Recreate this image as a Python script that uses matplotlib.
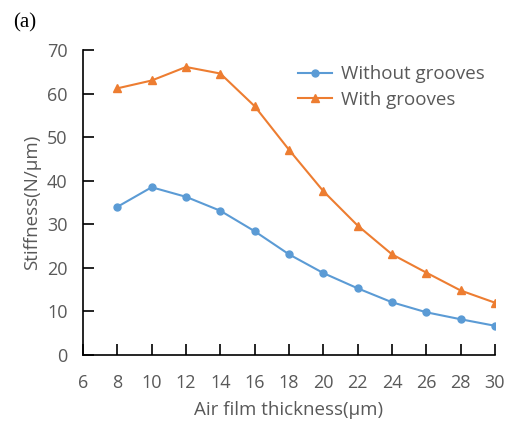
import matplotlib
matplotlib.use("Agg")
import matplotlib.pyplot as plt

thickness = [8, 10, 12, 14, 16, 18, 20, 22, 24, 26, 28, 30]
without_grooves = [34.0, 38.5, 36.3, 33.1, 28.4, 23.1, 18.8, 15.3, 12.1, 9.8, 8.2, 6.7]
with_grooves = [61.2, 63.0, 66.1, 64.6, 57.1, 47.1, 37.6, 29.7, 23.1, 18.9, 14.8, 12.0]
xticks = list(range(6, 31, 2))
yticks = list(range(0, 71, 10))

plt.rcParams['font.family'] = ['Open Sans', 'DejaVu Sans']

fig = plt.figure(figsize=(5.14, 4.23), dpi=100)
ax = fig.add_axes([0.1615, 0.1608, 0.8015, 0.721])

blue = '#5B9BD5'
orange = '#ED7D31'
ax.plot(thickness, without_grooves, color=blue, marker='o', markersize=5,
        linewidth=1.5, label='Without grooves')
ax.plot(thickness, with_grooves, color=orange, marker='^', markersize=6,
        linewidth=1.5, label='With grooves')

ax.set_xlim(6, 30)
ax.set_ylim(0, 70)
ax.set_xticks(xticks)
ax.set_yticks(yticks)
ax.spines['top'].set_visible(False)
ax.spines['right'].set_visible(False)
for s in ('left', 'bottom'):
    ax.spines[s].set_linewidth(1.2)
    ax.spines[s].set_color('black')
ax.tick_params(direction='in', length=8, width=1.2, colors='black',
               labelcolor='#595959', labelsize=13)
ax.tick_params(axis='x', pad=14)
ax.tick_params(axis='y', pad=11)

ax.set_xlabel('Air film thickness(μm)', fontsize=13.5, color='#595959', labelpad=6)
ax.set_ylabel('Stiffness(N/μm)', fontsize=13.5, color='#595959', labelpad=4)

leg = ax.legend(loc='upper left', bbox_to_anchor=(0.482, 1.005), frameon=False,
                fontsize=13.5, labelcolor='#595959', handlelength=1.8,
                handletextpad=0.45, labelspacing=0.4)

fig.text(0.025, 0.968, '(a)', fontsize=15, family='Liberation Serif',
         va='top', ha='left', color='black')

fig.savefig('out.png', dpi=100)
